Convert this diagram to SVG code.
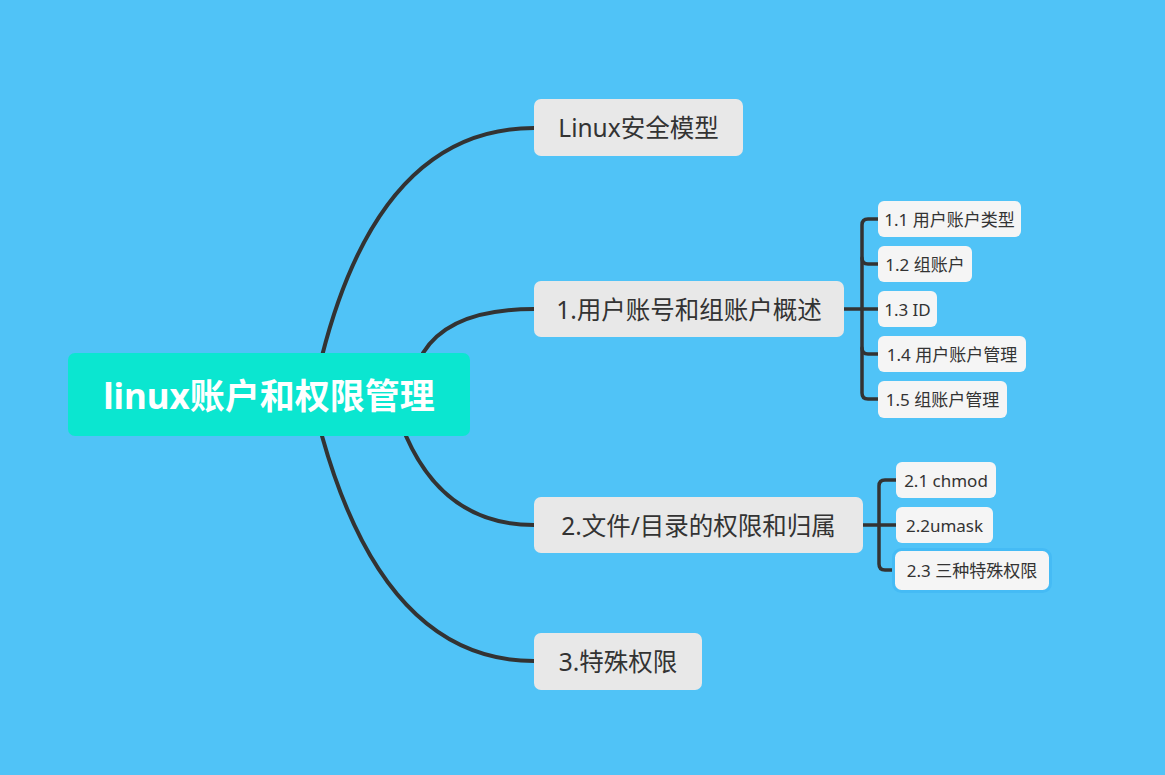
<svg xmlns="http://www.w3.org/2000/svg" width="1165" height="775" viewBox="0 0 1165 775">
<style>
text{font-family:"Noto Sans","Noto Sans CJK SC",sans-serif;dominant-baseline:central;text-anchor:middle}
.root rect{fill:#0BE6D0}
.root text{fill:#fff;font-size:35px;font-weight:bold}
.main rect{fill:#E8E8E8}
.main text{fill:#333;font-size:24.5px}
.sub rect{fill:#F5F5F5}
.sub text{fill:#333;font-size:17px}
.conn path{fill:none;stroke:#333;stroke-width:4;stroke-linecap:round}
.conn .br{stroke-width:3.5}
</style>
<rect width="1165" height="775" fill="#50C3F7"/>
<g id="connectors" class="conn">
<path d="M322 356 Q380 128 534 128"/>
<path d="M423 353 Q450 309 534 309"/>
<path d="M406 436 Q445 525 534 525"/>
<path d="M322 436 Q385 661 534 661"/>
<path class="br" d="M844 309 H878"/>
<path class="br" d="M878 219 H868 Q862 219 862 225 V393 Q862 399 868 399 H878"/>
<path class="br" d="M862 258 Q862 264 868 264 H878"/>
<path class="br" d="M862 348 Q862 354 868 354 H878"/>
<path class="br" d="M863 525 H896"/>
<path class="br" d="M896 480 H885 Q879 480 879 486 V564 Q879 570 885 570 H896"/>
</g>
<g id="root" class="root"><rect x="68" y="353" width="402" height="83" rx="7"/><text x="269" y="395">linux账户和权限管理</text></g>
<g id="n-linux" class="main"><rect x="534" y="99" width="209" height="57" rx="7"/><text x="638.5" y="127.5">Linux安全模型</text></g>
<g id="n1" class="main"><rect x="534" y="281" width="310" height="56" rx="7"/><text x="689" y="309">1.用户账号和组账户概述</text></g>
<g id="n2" class="main"><rect x="534" y="497" width="329" height="56" rx="7"/><text x="698.5" y="525">2.文件/目录的权限和归属</text></g>
<g id="n3" class="main"><rect x="534" y="633" width="168" height="57" rx="7"/><text x="618" y="661.5">3.特殊权限</text></g>
<g id="n11" class="sub"><rect x="878" y="201" width="143" height="36" rx="6"/><text x="949.5" y="219">1.1 用户账户类型</text></g>
<g id="n12" class="sub"><rect x="878" y="246" width="94" height="36" rx="6"/><text x="925" y="264">1.2 组账户</text></g>
<g id="n13" class="sub"><rect x="878" y="291" width="59" height="36" rx="6"/><text x="907.5" y="309">1.3 ID</text></g>
<g id="n14" class="sub"><rect x="878" y="336" width="148" height="36" rx="6"/><text x="952" y="354">1.4 用户账户管理</text></g>
<g id="n15" class="sub"><rect x="878" y="381" width="129" height="37" rx="6"/><text x="942.5" y="399.5">1.5 组账户管理</text></g>
<g id="n21" class="sub"><rect x="896" y="462" width="100" height="36" rx="6"/><text x="946" y="480">2.1 chmod</text></g>
<g id="n22" class="sub"><rect x="896" y="507" width="97" height="36" rx="6"/><text x="944.5" y="525">2.2umask</text></g>
<g id="n23" class="sub"><rect x="893.5" y="549.5" width="157" height="42" rx="8" fill="none" stroke="#45BBF5" stroke-width="3"/><rect x="896" y="552" width="152" height="37" rx="6"/><text x="972" y="570.5">2.3 三种特殊权限</text></g>
</svg>
